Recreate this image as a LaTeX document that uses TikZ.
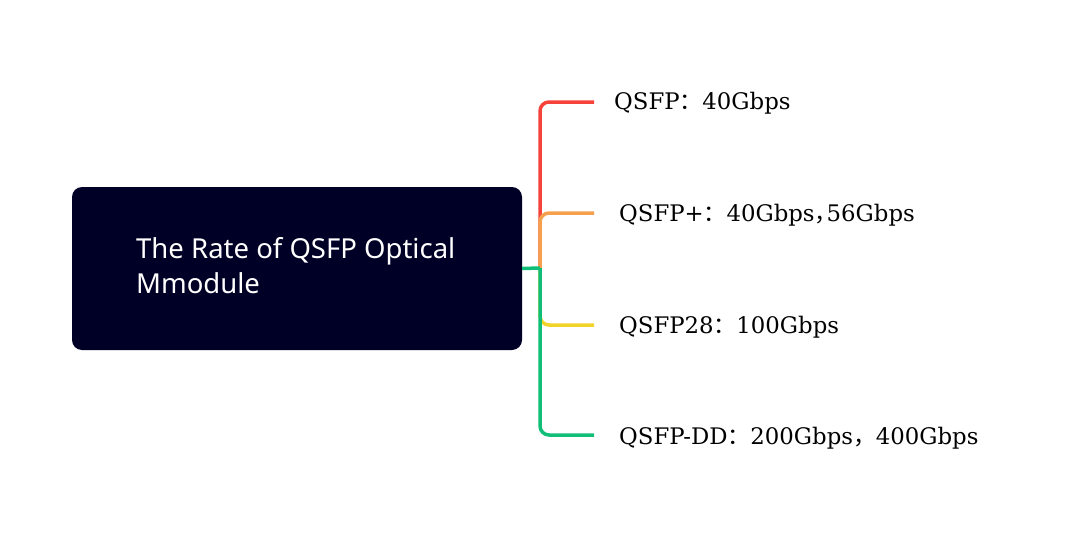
\documentclass[tikz,border=0pt]{standalone}
\usepackage{fontspec}
\setmainfont{DejaVu Serif}
\newfontfamily\titlefont{Noto Sans}
\newfontfamily\cjk{Noto Sans CJK SC}
\definecolor{boxfill}{RGB}{0,0,38}
\definecolor{cred}{RGB}{245,66,58}
\definecolor{corange}{RGB}{246,160,78}
\definecolor{cyellow}{RGB}{240,212,42}
\definecolor{cgreen}{RGB}{16,190,120}
\tikzset{
  rootbox/.style={rectangle, fill=boxfill, rounded corners=10pt, minimum width=450pt, minimum height=163pt, inner sep=0pt},
  titletext/.style={anchor=base west, inner sep=0pt, text=white, align=left, font=\titlefont\fontsize{27.5}{35}\selectfont},
  leaf/.style={anchor=base west, inner sep=0pt, font=\fontsize{22.8}{26}\selectfont, text=black},
  branch/.style={line width=3.5pt, rounded corners=9pt},
}
\begin{document}
\begin{tikzpicture}[x=1pt,y=-1pt]
\useasboundingbox[fill=white] (0,0) rectangle (1080,538);
\node[rootbox] (root) at (297,268.5) {};
\node[titletext] (title) at (136,293) {The Rate of QSFP Optical\\Mmodule};
\node[leaf] (l1) at (614,109.5) {QSFP{\cjk ：}40Gbps};
\node[leaf] (l2) at (619,221.5) {QSFP+{\cjk ：}40Gbps\makebox[12pt][l]{\cjk ，}56Gbps};
\node[leaf] (l3) at (619,333.5) {QSFP28{\cjk ：}100Gbps};
\node[leaf] (l4) at (619,444) {QSFP-DD{\cjk ：}200Gbps{\cjk ，}400Gbps};
\coordinate (j) at (540,268);
\coordinate (e1) at (594,102);
\coordinate (e2) at (594,213);
\coordinate (e3) at (594,325);
\coordinate (e4) at (594,435);
\draw[branch, cred] (j) |- (e1);
\draw[branch, corange] (j) |- (e2);
\draw[branch, cyellow] (j) |- (e3);
\draw[branch, cgreen] (j) |- (e4);
\draw[line width=3.5pt, cgreen] (root.east) -- (j);
\end{tikzpicture}
\end{document}
